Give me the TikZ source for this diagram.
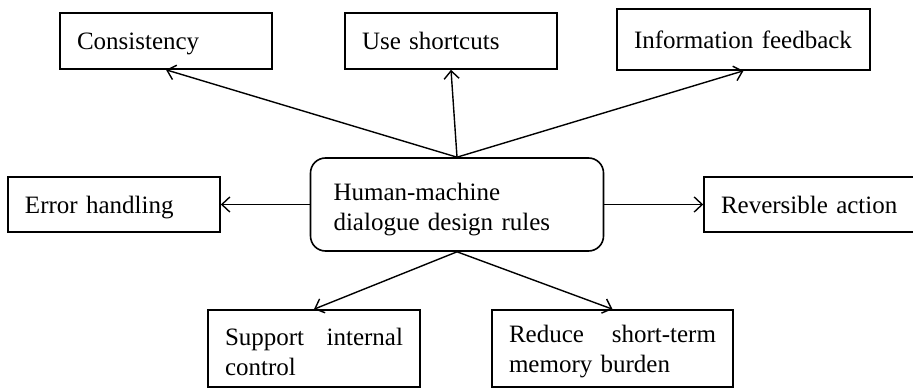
\documentclass[tikz,border=0pt]{standalone}
\usepackage{fontspec}
\setmainfont{Liberation Serif}
\usetikzlibrary{arrows.meta}
\begin{document}
\begin{tikzpicture}[x=0.5pt,y=-0.5pt,font=\fontsize{12.5pt}{15pt}\selectfont,
		rl/.style={draw,line width=0.8pt,rectangle,inner xsep=8.5pt,inner ysep=0pt,
					align=left,text width=89pt,text depth=0pt,text=black},
		hb/.style={draw,line width=0.8pt,rectangle,rounded corners=7.5pt,inner xsep=11.5pt,
					align=left,text width=123.5pt,text depth=13pt,minimum height=46.5pt,text=black},
		ln/.style={line width=0.7pt,-{Straight Barb[length=4pt,width=7.5pt]}}]
		\useasboundingbox (0,0) rectangle (913,389);
		\node[hb] (hub) at (457,204.5) {Human-machine\\dialogue design rules};
		\node[rl,minimum height=28pt] (cons) at (166,41) {Consistency};
		\node[rl,minimum height=28pt] (short) at (451,41) {Use shortcuts};
		\node[rl,minimum height=30.5pt,text width=109.5pt] (info) at (743.5,39.5) {Information feedback};
		\node[rl,minimum height=27.5pt] (err) at (114,204.5) {Error handling};
		\node[rl,minimum height=27.5pt,text width=93pt] (rev) at (814,204.5) {Reversible action};
		\node[rl,minimum height=38.5pt,text depth=12pt] (sup) at (314,348.5) {Support\hfill internal\\control};
		\node[rl,minimum height=38.5pt,text width=103.5pt,text depth=15pt] (red) at (612.5,348.5) {Reduce\hfill short-term\\memory burden};
		\draw[ln] (hub.north) -- (cons.south);
		\draw[ln] (hub.north) -- (short.south);
		\draw[ln] (hub.north) -- (info.south);
		\draw[ln] (hub.west) -- (err.east);
		\draw[ln] (hub.east) -- (rev.west);
		\draw[ln] (hub.south) -- (sup.north);
		\draw[ln] (hub.south) -- (red.north);
	\end{tikzpicture}
\end{document}
